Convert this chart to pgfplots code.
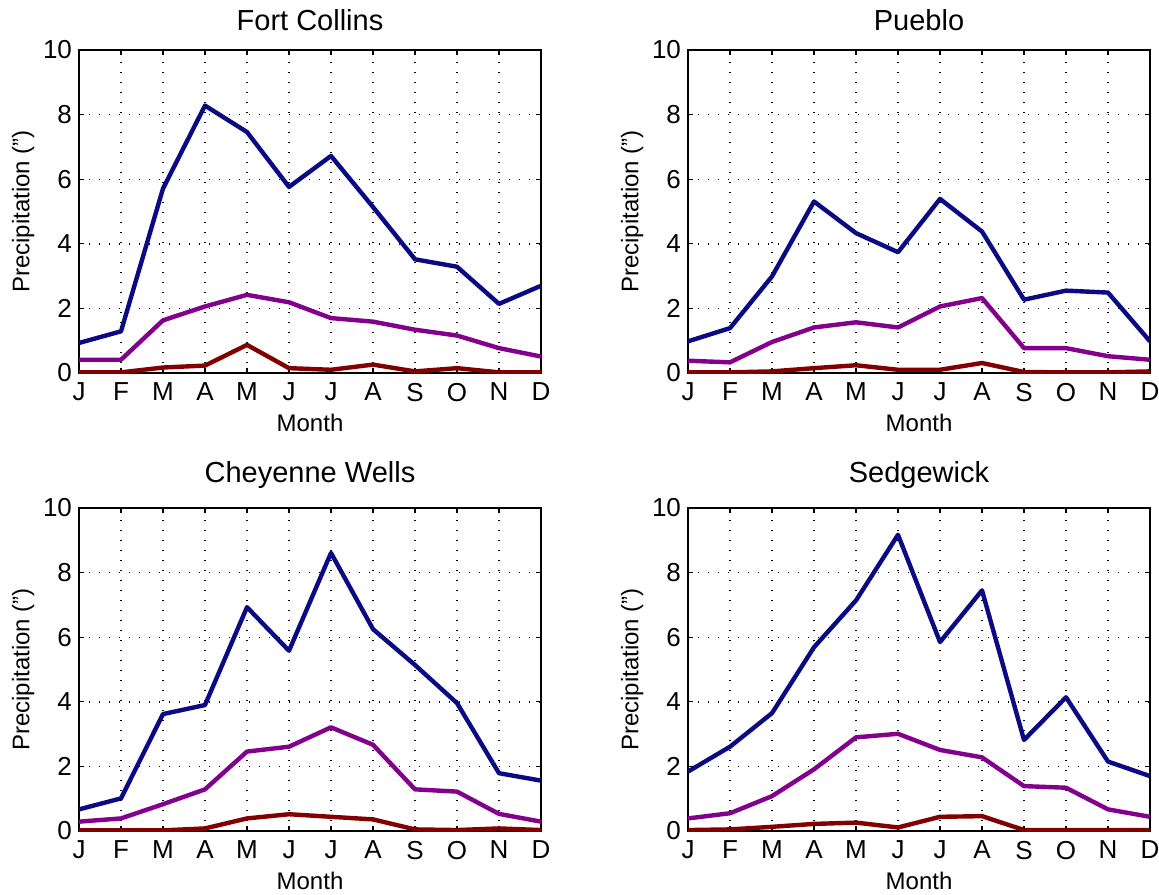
\documentclass[border=0pt]{standalone}
\usepackage{fontspec}
\setmainfont{Liberation Sans}
\usepackage{pgfplots}
\pgfplotsset{compat=1.18}
\definecolor{cblue}{RGB}{10,10,130}
\definecolor{cpurp}{RGB}{130,0,140}
\definecolor{cred}{RGB}{130,0,0}
\pgfplotsset{
  pstyle/.style={
    scale only axis, width=231pt, height=161.5pt,
    xmin=1, xmax=12, ymin=0, ymax=10,
    xtick={1,...,12},
    xticklabels={J,F,M,A,M,J,J,A,S,O,N,D},
    ytick={0,2,4,6,8,10},
    tick align=inside, major tick length=2.5pt,
    tick style={black, line width=0.6pt},
    grid=major,
    major grid style={black, line width=0.7pt, dash pattern=on 0.7pt off 4.3pt},
    axis line style={line width=1pt},
    tick label style={font=\fontsize{13}{15}\selectfont},
    xticklabel style={yshift=-1.5pt},
    /pgf/number format/assume math mode=true,
    label style={font=\fontsize{12}{14}\selectfont},
    title style={font=\fontsize{14.5}{16}\selectfont, yshift=0pt},
    xlabel={Month}, ylabel={Precipitation (")},
    xlabel style={yshift=0.8pt},
    ylabel style={yshift=-2.5pt},
    every axis plot/.append style={line width=2.2pt, line join=round, mark=none},
    anchor=north west,
  }
}
\begin{document}
\begin{tikzpicture}
\useasboundingbox (0,0) rectangle (579.5pt,-447pt);
\begin{axis}[pstyle, at={(39.5pt,-25pt)}, title={Fort Collins}]
\addplot[cblue] coordinates {(1,0.93)(2,1.29)(3,5.71)(4,8.28)(5,7.46)(6,5.76)(7,6.72)(8,5.14)(9,3.52)(10,3.29)(11,2.14)(12,2.70)};
\addplot[cpurp] coordinates {(1,0.41)(2,0.41)(3,1.63)(4,2.06)(5,2.42)(6,2.19)(7,1.70)(8,1.59)(9,1.34)(10,1.16)(11,0.77)(12,0.51)};
\addplot[cred] coordinates {(1,0.02)(2,0.02)(3,0.17)(4,0.23)(5,0.87)(6,0.15)(7,0.10)(8,0.26)(9,0.05)(10,0.15)(11,0.02)(12,0.02)};
\end{axis}
\begin{axis}[pstyle, at={(344pt,-25pt)}, title={Pueblo}]
\addplot[cblue] coordinates {(1,0.98)(2,1.39)(3,2.99)(4,5.31)(5,4.33)(6,3.74)(7,5.39)(8,4.38)(9,2.27)(10,2.55)(11,2.49)(12,0.98)};
\addplot[cpurp] coordinates {(1,0.38)(2,0.33)(3,0.96)(4,1.41)(5,1.57)(6,1.41)(7,2.06)(8,2.32)(9,0.77)(10,0.77)(11,0.52)(12,0.41)};
\addplot[cred] coordinates {(1,0.02)(2,0.02)(3,0.05)(4,0.15)(5,0.24)(6,0.10)(7,0.10)(8,0.31)(9,0.03)(10,0.02)(11,0.02)(12,0.05)};
\end{axis}
\begin{axis}[pstyle, at={(39.5pt,-254pt)}, title={Cheyenne Wells}]
\addplot[cblue] coordinates {(1,0.67)(2,1.01)(3,3.62)(4,3.90)(5,6.93)(6,5.58)(7,8.61)(8,6.25)(9,5.14)(10,3.96)(11,1.79)(12,1.56)};
\addplot[cpurp] coordinates {(1,0.29)(2,0.39)(3,0.83)(4,1.29)(5,2.46)(6,2.61)(7,3.21)(8,2.67)(9,1.29)(10,1.22)(11,0.53)(12,0.29)};
\addplot[cred] coordinates {(1,0.02)(2,0.02)(3,0.02)(4,0.08)(5,0.39)(6,0.52)(7,0.44)(8,0.36)(9,0.05)(10,0.03)(11,0.08)(12,0.03)};
\end{axis}
\begin{axis}[pstyle, at={(344pt,-254pt)}, title={Sedgewick}]
\addplot[cblue] coordinates {(1,1.84)(2,2.61)(3,3.65)(4,5.69)(5,7.14)(6,9.17)(7,5.85)(8,7.45)(9,2.82)(10,4.14)(11,2.15)(12,1.70)};
\addplot[cpurp] coordinates {(1,0.39)(2,0.55)(3,1.08)(4,1.91)(5,2.90)(6,3.01)(7,2.51)(8,2.28)(9,1.39)(10,1.34)(11,0.67)(12,0.44)};
\addplot[cred] coordinates {(1,0.03)(2,0.05)(3,0.13)(4,0.22)(5,0.26)(6,0.11)(7,0.44)(8,0.46)(9,0.03)(10,0.03)(11,0.03)(12,0.03)};
\end{axis}
\end{tikzpicture}
\end{document}
